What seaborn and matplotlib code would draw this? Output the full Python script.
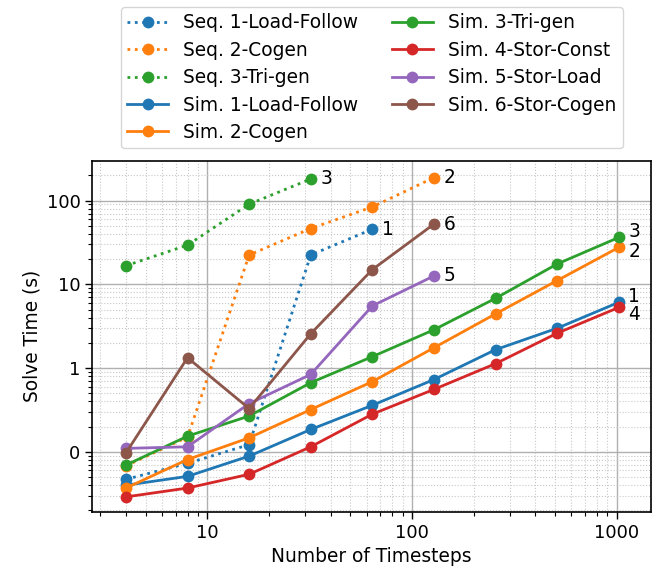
import matplotlib
matplotlib.use("Agg")
import matplotlib.pyplot as plt
from matplotlib.ticker import FuncFormatter, FixedLocator
import seaborn as sns
import pandas as pd

# ---- data ----
steps_seq1 = [4, 8, 16, 32, 64]
seq1 = [0.047, 0.073, 0.122, 22.4, 45.6]
steps_seq2 = [4, 8, 16, 32, 64, 128]
seq2 = [0.068, 0.15, 22.4, 46.4, 84.0, 188.0]
steps_seq3 = [4, 8, 16, 32]
seq3 = [16.7, 29.4, 90.6, 181.0]

steps_sim = [4, 8, 16, 32, 64, 128, 256, 512, 1024]
sim1 = [0.040, 0.051, 0.089, 0.185, 0.36, 0.73, 1.66, 2.99, 6.1]
sim2 = [0.037, 0.081, 0.147, 0.32, 0.69, 1.75, 4.44, 11.1, 27.6]
sim3 = [0.0695, 0.154, 0.268, 0.67, 1.37, 2.87, 6.81, 17.5, 36.3]
sim4 = [0.029, 0.037, 0.054, 0.115, 0.282, 0.557, 1.13, 2.61, 5.3]
steps_stor = [4, 8, 16, 32, 64, 128]
sim5 = [0.11, 0.115, 0.377, 0.84, 5.53, 12.6]
sim6 = [0.097, 1.33, 0.329, 2.57, 15.0, 52.4]

series_names = ["Seq. 1-Load-Follow", "Seq. 2-Cogen", "Seq. 3-Tri-gen",
                "Sim. 1-Load-Follow", "Sim. 2-Cogen", "Sim. 3-Tri-gen",
                "Sim. 4-Stor-Const", "Sim. 5-Stor-Load", "Sim. 6-Stor-Cogen"]
end_labels = ["1", "2", "3", "1", "2", "3", "4", "5", "6"]

x_ticks = [10, 100, 1000]
x_tick_labels = ["10", "100", "1000"]
y_ticks = [0.1, 1, 10, 100]

# ---- figure ----
plt.rcParams['font.family'] = ['DejaVu Sans']
fig = plt.figure(figsize=(6.56, 5.72), dpi=100)
ax = fig.add_axes([0.1407, 0.1054, 0.8517, 0.6136])

tab = sns.color_palette("tab10")
specs = [
    (steps_seq1, seq1, tab[0], ':'),
    (steps_seq2, seq2, tab[1], ':'),
    (steps_seq3, seq3, tab[2], ':'),
    (steps_sim, sim1, tab[0], '-'),
    (steps_sim, sim2, tab[1], '-'),
    (steps_sim, sim3, tab[2], '-'),
    (steps_sim, sim4, tab[3], '-'),
    (steps_stor, sim5, tab[4], '-'),
    (steps_stor, sim6, tab[5], '-'),
]
# label offsets in points (style, not data)
offsets = [(7, 0), (7, 0), (7, 0), (7, 4), (7, -3), (7, 4), (7, -5), (7, 0), (7, 0)]

for (xs, ys, col, ls), name, lab, off in zip(specs, series_names, end_labels, offsets):
    df = pd.DataFrame({"Timesteps": xs, "Time": ys})
    sns.lineplot(data=df, x="Timesteps", y="Time", ax=ax, color=col, linestyle=ls,
                 linewidth=2, marker='o', markersize=8.5, markeredgewidth=0,
                 label=name, estimator=None, sort=False)
    ax.annotate(lab, xy=(xs[-1], ys[-1]), xytext=off, textcoords='offset points',
                ha='left', va='center', fontsize=13.4, color='black')

ax.set_xscale('log')
ax.set_yscale('log')
ax.set_xlim(2.74, 1472)
ax.set_ylim(0.0193, 299)

ax.xaxis.set_major_locator(FixedLocator(x_ticks))
ax.set_xticklabels(x_tick_labels)
ax.yaxis.set_major_locator(FixedLocator(y_ticks))
ax.yaxis.set_major_formatter(FuncFormatter(lambda v, p: '%d' % v))

ax.grid(True, which='major', color='#b0b0b0', linewidth=1.0, linestyle='-')
ax.grid(True, which='minor', color='#c8c8c8', linewidth=0.8, linestyle=':')
ax.set_axisbelow(True)

ax.tick_params(axis='both', which='major', labelsize=13, length=5, width=1, direction='out')
ax.tick_params(axis='both', which='minor', length=3, width=0.8, direction='out')
for s in ax.spines.values():
    s.set_color('black')
    s.set_linewidth(1.2)

ax.set_xlabel("Number of Timesteps", fontsize=13.4)
ax.set_ylabel("Solve Time (s)", fontsize=13.4)

ax.legend(ncol=2, loc='lower center', bbox_to_anchor=(0.5, 1.035), borderaxespad=0,
          fontsize=13.4, handlelength=2.2, columnspacing=1.8, labelspacing=0.45,
          frameon=True, framealpha=0.8, edgecolor='#cccccc', borderpad=0.35)

fig.savefig("out.png", dpi=100)
